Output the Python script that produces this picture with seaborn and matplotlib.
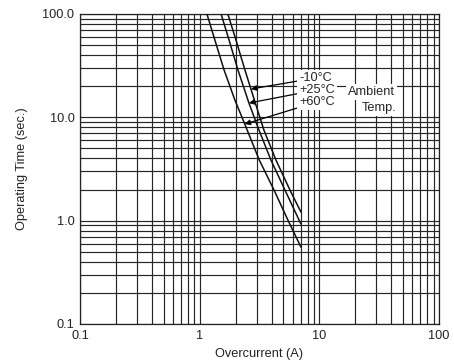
import numpy as np
import pandas as pd
import matplotlib
matplotlib.use("Agg")
import matplotlib.pyplot as plt
from matplotlib.ticker import FixedLocator, FixedFormatter, LogLocator, NullFormatter
import seaborn as sns

# ---- data ----
curve_labels = ["-10°C", "+25°C", "+60°C"]
current_m10 = [1.72, 2.01, 2.39, 2.68, 3.44, 4.34, 5.68, 7.02]
time_m10 = [100, 56.0, 28.7, 18.8, 7.54, 3.86, 1.98, 1.21]
current_p25 = [1.51, 1.76, 2.09, 2.58, 3.13, 3.94, 5.16, 7.02]
time_p25 = [100, 56.0, 28.7, 13.75, 7.54, 3.86, 1.98, 0.927]
current_p60 = [1.15, 1.34, 1.60, 1.97, 2.38, 3.15, 4.18, 5.47, 7.02]
time_p60 = [100, 56.0, 28.7, 14.7, 8.61, 3.86, 1.98, 1.01, 0.555]
x_ticks = [0.1, 1, 10, 100]
x_ticklabels = ["0.1", "1", "10", "100"]
y_ticks = [0.1, 1, 10, 100]
y_ticklabels = ["0.1", "1.0", "10.0", "100.0"]

df = pd.concat([
    pd.DataFrame({"I": current_m10, "t": time_m10, "T": curve_labels[0]}),
    pd.DataFrame({"I": current_p25, "t": time_p25, "T": curve_labels[1]}),
    pd.DataFrame({"I": current_p60, "t": time_p60, "T": curve_labels[2]}),
], ignore_index=True)

sns.set_theme(style="white")
plt.rcParams["font.family"] = ["Liberation Sans", "DejaVu Sans"]
FS = 9.2

fig = plt.figure(figsize=(4.54, 3.62), dpi=100)
ax = fig.add_axes([80 / 454, 1 - 324 / 362, 359 / 454, 310 / 362])
ax.set_xscale("log")
ax.set_yscale("log")

sns.lineplot(data=df, x="I", y="t", hue="T", units="T", estimator=None, sort=False,
             palette=["#111111"] * 3, legend=False, linewidth=1.1, ax=ax, zorder=3)

ax.set_xlim(0.1, 100)
ax.set_ylim(0.1, 100)

# grid
ax.xaxis.set_major_locator(FixedLocator(x_ticks))
ax.xaxis.set_major_formatter(FixedFormatter(x_ticklabels))
ax.yaxis.set_major_locator(FixedLocator(y_ticks))
ax.yaxis.set_major_formatter(FixedFormatter(y_ticklabels))
ax.xaxis.set_minor_locator(LogLocator(base=10, subs=np.arange(2, 10)))
ax.yaxis.set_minor_locator(LogLocator(base=10, subs=np.arange(2, 10)))
ax.xaxis.set_minor_formatter(NullFormatter())
ax.yaxis.set_minor_formatter(NullFormatter())
ax.grid(True, which="both", color="#262626", linewidth=0.85)
ax.set_axisbelow(True)
ax.tick_params(which="both", length=0, labelsize=FS, colors="#222222", pad=4)
for s in ax.spines.values():
    s.set_color("#222222")
    s.set_linewidth(0.9)

ax.set_xlabel("Overcurrent (A)", fontsize=FS, color="#222222", labelpad=4.5)
ax.set_ylabel("Operating Time (sec.)", fontsize=FS, color="#222222", labelpad=10.5)

# annotations
bb = dict(facecolor="white", edgecolor="none", pad=1.5)
arrow = dict(arrowstyle="-|>", color="black", lw=0.9, mutation_scale=8, shrinkA=0, shrinkB=0)
ax.annotate(curve_labels[0], xy=(current_m10[3], time_m10[3]), xytext=(6.76, 24.0),
            ha="left", va="center", fontsize=FS, bbox=bb, arrowprops=arrow, zorder=5)
ax.annotate(curve_labels[1], xy=(current_p25[3], time_p25[3]), xytext=(6.76, 18.4),
            ha="left", va="center", fontsize=FS, bbox=bb, arrowprops=arrow, zorder=5)
ax.annotate(curve_labels[2], xy=(current_p60[4], time_p60[4]), xytext=(6.76, 14.06),
            ha="left", va="center", fontsize=FS, bbox=bb, arrowprops=arrow, zorder=5)
ax.text(17.3, 17.6, "Ambient", ha="left", va="center", fontsize=FS, bbox=bb, zorder=5)
ax.text(44.4, 12.3, "Temp.", ha="right", va="center", fontsize=FS, bbox=bb, zorder=5)

fig.savefig("out.png", dpi=100)
